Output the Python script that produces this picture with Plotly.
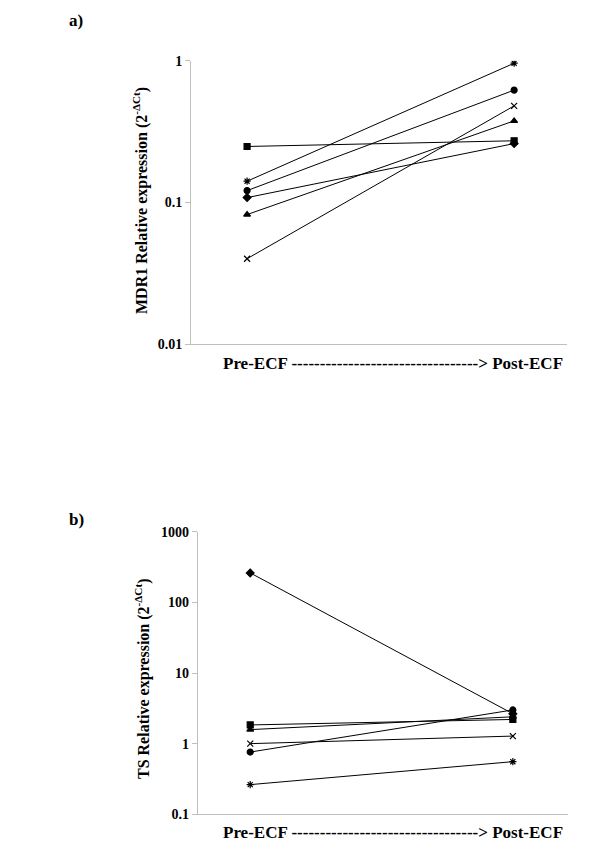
import plotly.graph_objects as go

# ---- data ----
stages = [0, 1]  # Pre-ECF, Post-ECF
marker_symbols = ["square", "asterisk-open", "circle", "diamond", "triangle-up", "x-thin-open"]

mdr1_pre = [0.248, 0.141, 0.121, 0.108, 0.082, 0.040]
mdr1_post = [0.272, 0.96, 0.62, 0.26, 0.376, 0.48]

ts_symbols = ["diamond", "square", "triangle-up", "x-thin-open", "circle", "asterisk-open"]
ts_pre = [261, 1.84, 1.58, 1.0, 0.76, 0.263]
ts_post = [2.65, 2.2, 2.4, 1.28, 3.0, 0.556]

mdr1_ticks = [0.01, 0.1, 1]
mdr1_ticktext = ["0.01", "0.1", "1"]
ts_ticks = [0.1, 1, 10, 100, 1000]
ts_ticktext = ["0.1", "1", "10", "100", "1000"]

xtitle = "Pre-ECF " + "-" * 33 + "> Post-ECF"

FONT = "Liberation Serif, Times New Roman, serif"

# page has an 8px body margin; figure is sized to fit the window
OFF = 8
W, H = 600 - OFF, 849 - OFF


def px(x):
    return (x - OFF) / W


def py(y):
    return 1 - (y - OFF) / H


fig = go.Figure()

for pre, post, sym in zip(mdr1_pre, mdr1_post, marker_symbols):
    fig.add_trace(go.Scatter(
        x=stages, y=[pre, post], mode="lines+markers",
        line=dict(color="black", width=1),
        marker=dict(symbol=sym, size=6, color="black",
                    line=dict(color="black", width=1.2)),
        xaxis="x", yaxis="y", showlegend=False))

for pre, post, sym in zip(ts_pre, ts_post, ts_symbols):
    fig.add_trace(go.Scatter(
        x=stages, y=[pre, post], mode="lines+markers",
        line=dict(color="black", width=1),
        marker=dict(symbol=sym, size=6, color="black",
                    line=dict(color="black", width=1.2)),
        xaxis="x2", yaxis="y2", showlegend=False))

axis_common = dict(showgrid=False, zeroline=False, showline=True,
                   linecolor="#bfbfbf", linewidth=1)
tickfont = dict(family=FONT, size=14, color="black")

fig.update_layout(
    width=W, height=H,
    margin=dict(l=0, r=0, t=0, b=0, pad=0, autoexpand=False),
    paper_bgcolor="white", plot_bgcolor="white",
    font=dict(family=FONT, color="black"),
    xaxis=dict(domain=[px(191), px(567)], range=[-0.21, 1.198], showticklabels=False,
               ticks="", anchor="y", **axis_common),
    yaxis=dict(domain=[py(344), py(60.7)], type="log", range=[-2, 0],
               tickvals=mdr1_ticks, ticktext=["<b>%s</b>" % t for t in mdr1_ticktext],
               ticks="outside", ticklen=5, tickcolor="#bfbfbf",
               tickfont=tickfont, anchor="x", **axis_common),
    xaxis2=dict(domain=[px(197.7), px(568)], range=[-0.2, 1.21], showticklabels=False,
                ticks="", anchor="y2", **axis_common),
    yaxis2=dict(domain=[py(814.3), py(531.7)], type="log", range=[-1, 3],
                tickvals=ts_ticks, ticktext=["<b>%s</b>" % t for t in ts_ticktext],
                ticks="outside", ticklen=5, tickcolor="#bfbfbf",
                tickfont=tickfont, anchor="x2", **axis_common),
)


def ann(x, y, text, size, angle=0):
    fig.add_annotation(x=px(x), y=py(y), xref="paper", yref="paper",
                       text=text, showarrow=False, textangle=angle,
                       xanchor="center", yanchor="middle",
                       font=dict(family=FONT, size=size, color="black"))


ann(76, 20, "<b>a)</b>", 17)
ann(76, 520, "<b>b)</b>", 17)
ann(141, 201, "<b>MDR1 Relative expression (2<sup>-ΔCt</sup>)</b>", 16, -90)
ann(142, 679, "<b>TS Relative expression (2<sup>-ΔCt</sup>)</b>", 16, -90)
ann(393, 363, "<b>" + xtitle + "</b>", 17)
ann(393, 832, "<b>" + xtitle + "</b>", 17)

fig.write_html("out.html")
